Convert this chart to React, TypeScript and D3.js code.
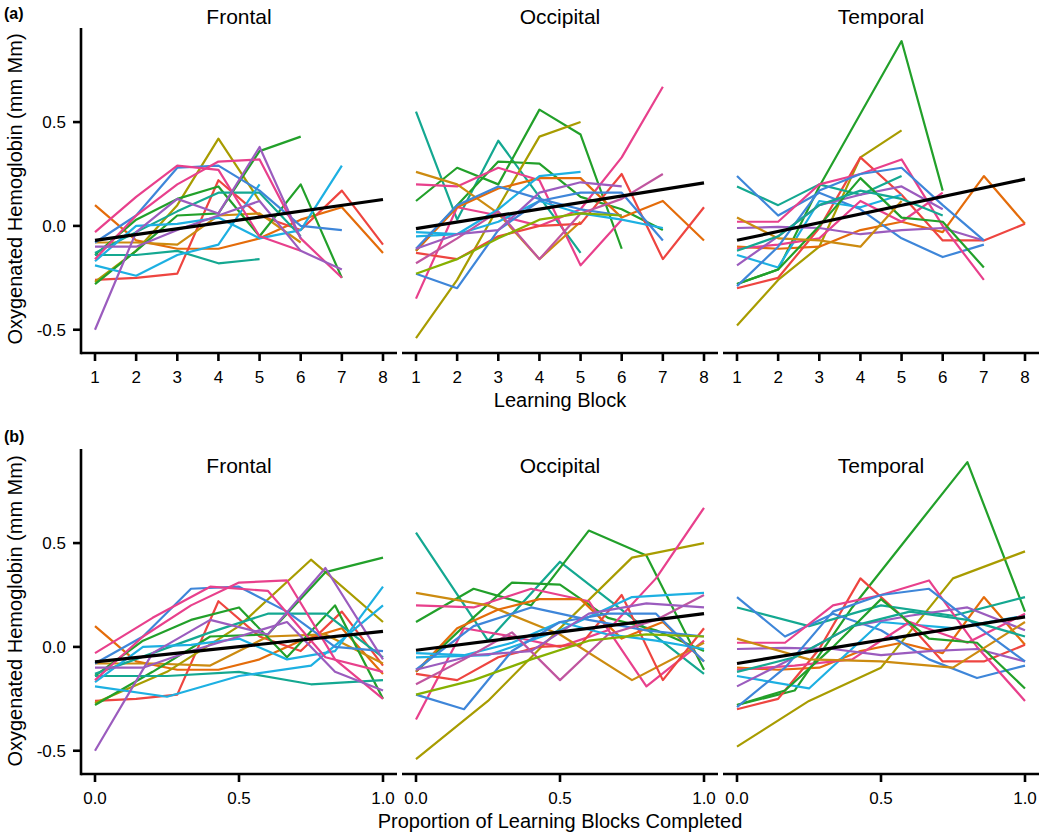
import React from "react";
import * as d3 from "d3";

// ---------- data ----------
const regions = ["Frontal", "Occipital", "Temporal"];
const blockTicks = [1, 2, 3, 4, 5, 6, 7, 8];
const propTicks = [0, 0.5, 1];
const propTickLabels = ["0.0", "0.5", "1.0"];
const yTicks = [-0.5, 0, 0.5];
const yTickLabels = ["-0.5", "0.0", "0.5"];

// per-subject oxygenated hemoglobin by learning block
const frontalValues: number[][] = [
  [0.10, -0.07, -0.11, -0.11, -0.06, 0.03, 0.09, -0.13],
  [-0.26, -0.25, -0.23, 0.22, 0.05, -0.02, 0.17, -0.09],
  [-0.08, -0.08, -0.09, 0.05, 0.06, -0.08],
  [-0.27, -0.12, 0.10, 0.42, 0.12],
  [-0.28, -0.12, 0.05, 0.06, 0.36, 0.43],
  [-0.14, 0.03, 0.13, 0.19, -0.05, 0.20, -0.25],
  [-0.14, -0.14, -0.12, -0.18, -0.16],
  [-0.13, -0.03, 0.07, 0.16, 0.16, -0.05],
  [-0.19, -0.24, -0.14, -0.09, 0.20],
  [-0.17, 0.0, 0.01, 0.04, -0.06, -0.02, 0.29],
  [-0.08, 0.05, 0.28, 0.29, 0.17, 0.0, -0.02],
  [-0.03, 0.14, 0.29, 0.27, -0.05, -0.12],
  [-0.16, 0.05, 0.20, 0.31, 0.32, -0.06, -0.25],
  [-0.50, -0.03, 0.13, 0.06, 0.38, -0.06],
  [-0.10, -0.10, -0.02, 0.05, 0.12, -0.12, -0.21],
];
const frontalColors = [
  "orange", "red", "golden", "olive", "green", "green", "teal", "teal",
  "cyan", "cyan", "blue", "pink", "pink", "purple", "purple",
];

const occipitalValues: number[][] = [
  [0.55, 0.03, 0.41, 0.14, -0.13],
  [0.12, 0.28, 0.20, 0.56, 0.44, -0.11],
  [-0.12, 0.10, 0.31, 0.30, 0.14, 0.08, -0.02],
  [-0.54, -0.26, 0.09, 0.43, 0.50],
  [-0.35, 0.09, 0.05, 0.0, 0.08, 0.33, 0.67],
  [0.20, 0.19, 0.28, 0.22, -0.19, 0.03],
  [0.26, 0.20, 0.06, -0.16, 0.02],
  [-0.12, 0.09, 0.18, 0.23, 0.23, 0.04, 0.12, -0.07],
  [-0.13, -0.16, -0.05, 0.0, 0.01, 0.25, -0.16, 0.09],
  [-0.05, -0.04, 0.08, 0.24, 0.26],
  [-0.03, -0.04, 0.02, 0.12, 0.06, 0.03, -0.01],
  [-0.23, -0.30, -0.02, 0.12, 0.16, 0.16, -0.07],
  [-0.11, 0.10, 0.19, 0.13, 0.08, 0.05],
  [-0.18, -0.06, 0.07, -0.16, 0.06, 0.13, 0.25],
  [-0.11, -0.04, -0.02, 0.16, 0.21, 0.19],
  [-0.23, -0.16, -0.06, 0.03, 0.06, 0.05],
];
const occipitalColors = [
  "teal", "green", "green", "olive", "pink", "pink", "golden", "orange",
  "red", "cyan", "cyan", "blue", "blue", "mauve", "purple", "lime",
];

const temporalValues: number[][] = [
  [-0.28, -0.21, 0.19, 0.54, 0.89, 0.17],
  [-0.48, -0.26, -0.10, 0.33, 0.46],
  [-0.10, -0.11, -0.10, -0.02, 0.02, -0.03, 0.24, 0.01],
  [-0.30, -0.25, -0.01, 0.33, 0.15, -0.07, -0.07, 0.01],
  [0.19, 0.10, 0.20, 0.15, 0.24],
  [0.24, 0.05, 0.16, 0.08, -0.06, -0.15, -0.09],
  [-0.14, -0.20, 0.12, 0.09, 0.15],
  [-0.11, -0.09, -0.06, 0.12, 0.02, 0.16],
  [0.02, 0.02, 0.20, 0.25, 0.32, 0.0, -0.26],
  [-0.01, -0.005, -0.01, -0.04, -0.02, -0.01, -0.07],
  [-0.19, -0.05, 0.10, 0.15, 0.19, 0.08],
  [-0.28, -0.21, 0.0, 0.23, 0.04, 0.02, -0.20],
  [0.04, -0.06, -0.07, -0.10, 0.12],
  [-0.29, -0.10, 0.17, 0.25, 0.28, 0.10, -0.07],
  [-0.12, -0.05, 0.10, 0.17, 0.13, 0.05],
];
const temporalColors = [
  "green", "olive", "orange", "red", "teal", "blue", "cyan", "pink",
  "pink", "purple", "purple", "green", "golden", "blue", "teal",
];

// linear fits (value at first and last x)
const fitBlockStart = [-0.07, -0.013, -0.069];
const fitBlockEnd = [0.127, 0.207, 0.225];
const fitPropStart = [-0.072, -0.016, -0.08];
const fitPropEnd = [0.075, 0.16, 0.145];

const palette: Record<string, string> = {
  red: "#EE4540",
  orange: "#E46C0A",
  golden: "#CC8B10",
  olive: "#A89C00",
  lime: "#86B000",
  green: "#22A02A",
  teal: "#14A891",
  cyan: "#1DB0E2",
  blue: "#3E86D9",
  purple: "#9B5CBE",
  mauve: "#C0559F",
  pink: "#E8408C",
};

const allValues = [frontalValues, occipitalValues, temporalValues];
const allColors = [frontalColors, occipitalColors, temporalColors];

// ---------- layout ----------
const W = 1050;
const H = 837;
const panelLeft = [81, 402, 723];
const panelW = 316;
const inner = 14;
const yDomain = [-0.612, 0.953];
const rows = [
  { top: 28, bottom: 353, mode: "block", label: "(a)", labelY: 19, titleY: 23.5, tickY: 383, yTitleC: 189, xTitle: "Learning Block", xTitleY: 407 },
  { top: 449, bottom: 774, mode: "prop", label: "(b)", labelY: 442, titleY: 472.5, tickY: 803.5, yTitleC: 611, xTitle: "Proportion of Learning Blocks Completed", xTitleY: 828 },
];
const FONT = "'Liberation Sans', Arial, Helvetica, sans-serif";

export default function App() {
  const line = d3.line<[number, number]>();
  return (
    <svg width={W} height={H} style={{ position: "absolute", left: 0, top: 0, background: "#fff" }} fontFamily={FONT}>
      <rect width={W} height={H} fill="#fff" />
      {rows.map((row, ri) => {
        const y = d3.scaleLinear().domain(yDomain).range([row.bottom, row.top]);
        return (
          <g key={ri}>
            <text x={4} y={row.labelY} fontSize={16} fontWeight="bold">{row.label}</text>
            <text transform={`translate(22,${row.yTitleC}) rotate(-90)`} textAnchor="middle" fontSize={20}>
              Oxygenated Hemoglobin (mm Mm)
            </text>
            <text x={560} y={row.xTitleY} textAnchor="middle" fontSize={20}>{row.xTitle}</text>
            {regions.map((reg, gi) => {
              const left = panelLeft[gi];
              const x = row.mode === "block"
                ? d3.scaleLinear().domain([1, 8]).range([left + inner, left + panelW - inner])
                : d3.scaleLinear().domain([0, 1]).range([left + inner, left + panelW - inner]);
              const ticks = row.mode === "block" ? blockTicks : propTicks;
              const tickLabels = row.mode === "block" ? blockTicks.map(String) : propTickLabels;
              const vals = allValues[gi];
              const cols = allColors[gi];
              const fx0 = row.mode === "block" ? 1 : 0;
              const fx1 = row.mode === "block" ? 8 : 1;
              const f0 = row.mode === "block" ? fitBlockStart[gi] : fitPropStart[gi];
              const f1 = row.mode === "block" ? fitBlockEnd[gi] : fitPropEnd[gi];
              return (
                <g key={reg}>
                  <text x={left + panelW / 2} y={row.titleY} textAnchor="middle" fontSize={21}>{reg}</text>
                  {vals.map((v, si) => {
                    const n = v.length;
                    const pts: [number, number][] = v.map((val, i) => [
                      x(row.mode === "block" ? i + 1 : i / (n - 1)),
                      y(val),
                    ]);
                    return (
                      <path key={si} d={line(pts) || ""} fill="none" stroke={palette[cols[si]]}
                        strokeWidth={2.2} strokeLinejoin="round" />
                    );
                  })}
                  <path d={line([[x(fx0), y(f0)], [x(fx1), y(f1)]]) || ""} stroke="#000" strokeWidth={3.2} fill="none" />
                  {/* x axis */}
                  <line x1={left} x2={left + panelW} y1={row.bottom} y2={row.bottom} stroke="#000" strokeWidth={2.6} />
                  {ticks.map((t, ti) => (
                    <g key={ti}>
                      <line x1={x(t)} x2={x(t)} y1={row.bottom} y2={row.bottom + 8} stroke="#000" strokeWidth={2.6} />
                      <text x={x(t)} y={row.tickY} textAnchor="middle" fontSize={17}>{tickLabels[ti]}</text>
                    </g>
                  ))}
                  {gi === 0 && (
                    <g>
                      <line x1={left} x2={left} y1={row.top} y2={row.bottom + 1.3} stroke="#000" strokeWidth={2.6} />
                      {yTicks.map((t, ti) => (
                        <g key={ti}>
                          <line x1={left - 8} x2={left} y1={y(t)} y2={y(t)} stroke="#000" strokeWidth={2.6} />
                          <text x={left - 15} y={y(t)} dy="0.36em" textAnchor="end" fontSize={17}>{yTickLabels[ti]}</text>
                        </g>
                      ))}
                    </g>
                  )}
                </g>
              );
            })}
          </g>
        );
      })}
    </svg>
  );
}
